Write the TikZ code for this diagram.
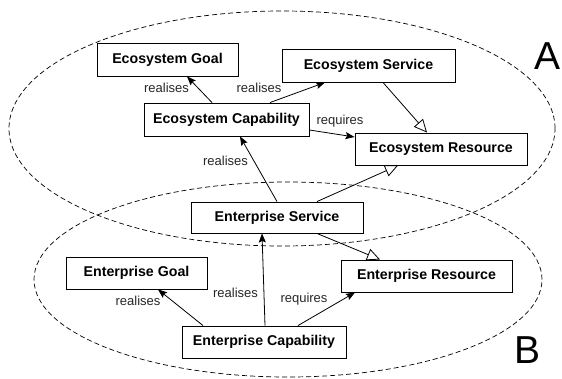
\documentclass[tikz,border=0pt]{standalone}
\usepackage{fontspec}
\setmainfont{Liberation Sans}
\usetikzlibrary{arrows.meta}
\begin{document}
\begin{tikzpicture}[x=1pt,y=-1pt,
  box/.style={draw, line width=0.9pt, fill=white, inner sep=0pt, minimum height=32pt,
    font=\fontsize{14.2}{17}\selectfont\bfseries},
  lbl/.style={inner sep=0pt, text=black!85, font=\fontsize{13}{15}\selectfont},
  big/.style={inner sep=0pt, font=\fontsize{39}{44}\selectfont},
  rel/.style={draw, line width=0.8pt, -{Stealth[length=9pt,width=7pt,inset=1.5pt]}},
  gen/.style={draw, line width=0.8pt, -{Triangle[open,length=13pt,width=12pt]}},
  region/.style={draw, dashed, dash pattern=on 5pt off 3pt, line width=0.7pt}
]
\useasboundingbox (0,0) rectangle (562,378);
\draw[region] (282,128.5) ellipse [x radius=273pt, y radius=117.5pt];
\draw[region] (288,279.5) ellipse [x radius=254pt, y radius=97.5pt];

\node[box, minimum width=141pt, minimum height=33pt] (EG) at (167.5,59.5) {Ecosystem Goal};
\node[box, minimum width=173pt, minimum height=33pt] (ES) at (368.5,65.5) {Ecosystem Service};
\node[box, minimum width=165pt, minimum height=33pt] (EC) at (226.5,119.5) {Ecosystem Capability};
\node[box, minimum width=172pt] (ER) at (441,149) {Ecosystem Resource};
\node[box, minimum width=172pt, minimum height=31pt] (NS) at (277,217.5) {Enterprise Service};
\node[box, minimum width=141pt] (NG) at (136.5,273) {Enterprise Goal};
\node[box, minimum width=171pt] (NR) at (426.5,276) {Enterprise Resource};
\node[box, minimum width=164pt] (NC) at (264,342) {Enterprise Capability};

\path[rel] ([xshift=-14.5pt]EC.north) -- ([xshift=19.5pt]EG.south);
\path[rel] ([xshift=43.5pt]EC.north) -- ([xshift=-43.5pt]ES.south);
\path[rel] ([yshift=-10.5pt]EC.east) -- ([yshift=12pt]ER.west);
\path[gen] ([xshift=14.5pt]ES.south) -- ([xshift=-14pt]ER.north);
\path[gen] ([xshift=40pt]NS.north) -- ([xshift=-43pt]ER.south);
\path[rel] (NS.north) -- ([xshift=13.5pt]EC.south);
\path[gen] ([xshift=40pt]NS.south) -- ([xshift=-46.5pt]NR.north);
\path[rel] ([xshift=-61pt]NC.north) -- ([xshift=21.5pt]NG.south);
\path[rel] ([xshift=1pt]NC.north) -- ([xshift=-15pt]NS.south);
\path[rel] ([xshift=34pt]NC.north) -- ([xshift=-71.5pt]NR.south);

\node[lbl] (l1) at (166.5,88) {realises};
\node[lbl] (l2) at (259,88) {realises};
\node[lbl] (l3) at (340,121) {requires};
\node[lbl] (l4) at (225.5,161) {realises};
\node[lbl] (l5) at (138,301) {realises};
\node[lbl] (l6) at (235.5,293) {realises};
\node[lbl] (l7) at (304,299) {requires};
\node[big] (A) at (547.5,56) {A};
\node[big] (B) at (527,350) {B};
\end{tikzpicture}
\end{document}
